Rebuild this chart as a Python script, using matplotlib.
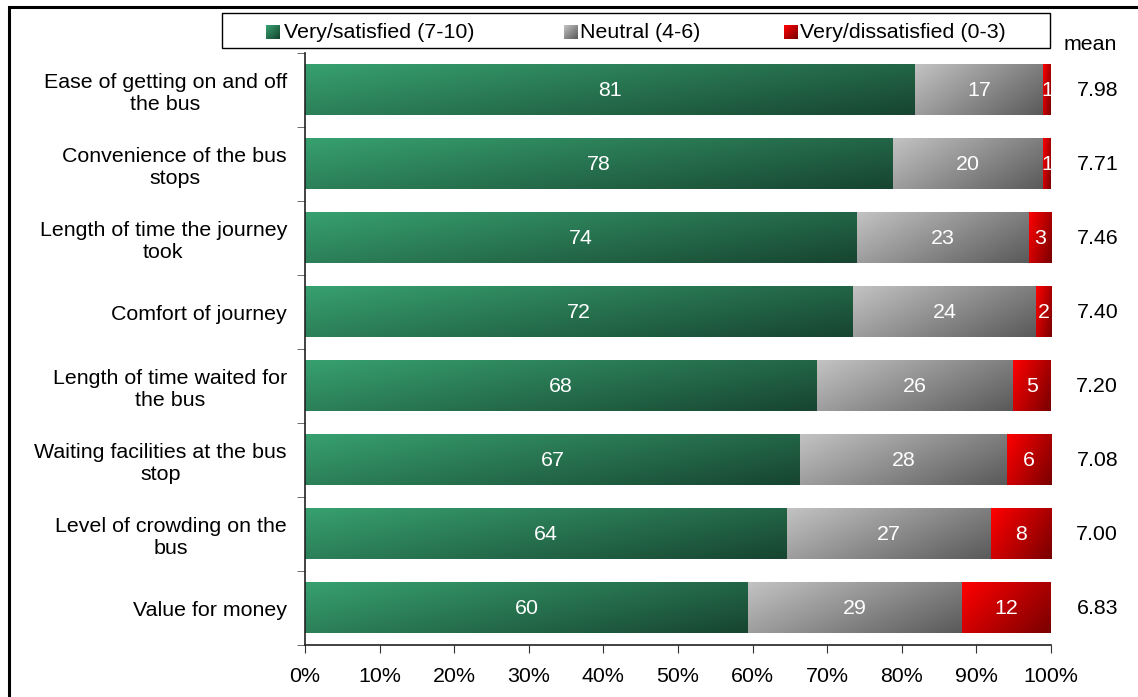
import numpy as np
import matplotlib
matplotlib.use("Agg")
import matplotlib.pyplot as plt
from matplotlib.colors import LinearSegmentedColormap
from matplotlib.patches import Rectangle

plt.rcParams['font.family'] = ['Liberation Sans', 'DejaVu Sans']

categories = [
    "Ease of getting on and off\nthe bus",
    "Convenience of the bus\nstops",
    "Length of time the journey\ntook",
    "Comfort of journey",
    "Length of time waited for\nthe bus",
    "Waiting facilities at the bus\nstop",
    "Level of crowding on the\nbus",
    "Value for money",
]
satisfied = [81, 78, 74, 72, 68, 67, 64, 60]
neutral = [17, 20, 23, 24, 26, 28, 27, 29]
dissatisfied = [1, 1, 3, 2, 5, 6, 8, 12]
means = [7.98, 7.71, 7.46, 7.40, 7.20, 7.08, 7.00, 6.83]
series_names = ["Very/satisfied (7-10)", "Neutral (4-6)", "Very/dissatisfied (0-3)"]
x_ticks = list(range(0, 101, 10))

cmaps = [
    LinearSegmentedColormap.from_list("g", ["#37A06F", "#174530"]),
    LinearSegmentedColormap.from_list("n", ["#C2C2C2", "#5A5A5A"]),
    LinearSegmentedColormap.from_list("r", ["#FF0000", "#7A0000"]),
]

W, H = 1138, 697
fig = plt.figure(figsize=(W / 100, H / 100), dpi=100)

def fx(px):
    return px / W

def fy(py):
    return 1 - py / H

ax = fig.add_axes([fx(305), fy(645), fx(1051) - fx(305), fy(53) - fy(645)])

# gradient image
nu, nv = 64, 32
u = np.linspace(0, 1, nu)[None, :]
v = np.linspace(0, 1, nv)[:, None]
grad = 0.65 * u + 0.35 * v  # top-left light -> bottom-right dark

FS = 15.4
bar_h = 0.68
data = np.array([satisfied, neutral, dissatisfied], dtype=float)
totals = data.sum(axis=0)
pct = data / totals * 100

for i in range(len(categories)):
    left = 0.0
    for s in range(3):
        w = pct[s, i]
        ax.imshow(grad, cmap=cmaps[s], vmin=0, vmax=1, aspect='auto',
                  extent=(left, left + w, i + bar_h / 2, i - bar_h / 2),
                  interpolation='bilinear', zorder=2)
        ax.text(left + w / 2, i, f"{data[s, i]:.0f}", ha='center', va='center',
                color='white', fontsize=FS, zorder=3)
        left += w
    ax.text(106.2, i, f"{means[i]:.2f}", ha='center', va='center', fontsize=FS,
            color='black', clip_on=False)

ax.text(105.2, -0.61, "mean", ha='center', va='center', fontsize=FS, clip_on=False)

ax.set_xlim(0, 100)
ax.set_ylim(len(categories) - 0.5, -0.5)
ax.set_xticks(x_ticks)
ax.set_xticklabels([f"{t}%" for t in x_ticks], fontsize=FS)
ax.set_yticks(range(len(categories)))
ax.set_yticklabels(categories, fontsize=FS, multialignment='center')
ax.tick_params(axis='y', length=0, pad=13)
ax.set_yticks(np.arange(-0.5, len(categories), 1), minor=True)
ax.tick_params(axis='y', which='minor', length=6, color='#555555', direction='out')
ax.tick_params(axis='x', length=6, color='#333333', direction='out', pad=10)
for sp in ['top', 'right']:
    ax.spines[sp].set_visible(False)
ax.spines['left'].set_color('#222222')
ax.spines['bottom'].set_color('#222222')
ax.spines['left'].set_linewidth(1.2)
ax.spines['bottom'].set_linewidth(1.2)

# outer frame
fig.add_artist(Rectangle((fx(9), fy(720)), fx(1160) - fx(9), fy(7) - fy(720),
                         transform=fig.transFigure, fill=False, edgecolor='black',
                         linewidth=2.2))

# legend box
fig.add_artist(Rectangle((fx(222), fy(48)), fx(1050) - fx(222), fy(13) - fy(48),
                         transform=fig.transFigure, fill=False, edgecolor='black',
                         linewidth=1.0))
swatch_x = [266, 564, 784]
text_x = [284, 580, 800]
for s in range(3):
    sax = fig.add_axes([fx(swatch_x[s]), fy(39), fx(14), fy(25) - fy(39)])
    sax.imshow(np.linspace(0, 1, 16)[None, :] * 0.5 + np.linspace(0, 1, 16)[:, None] * 0.5,
               cmap=cmaps[s], vmin=0, vmax=1, aspect='auto')
    sax.axis('off')
    fig.text(fx(text_x[s]), fy(32), series_names[s], ha='left', va='center', fontsize=FS)

fig.savefig("out.png", dpi=100)
